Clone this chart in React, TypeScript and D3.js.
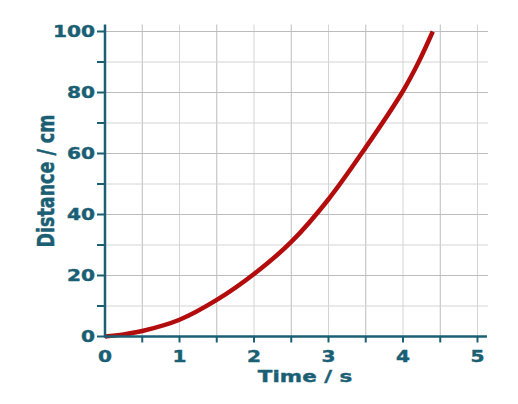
import React from "react";
import * as d3 from "d3";

const timeValues = [0, 0.25, 0.5, 1, 1.5, 2, 2.5, 3, 3.5, 4, 4.2, 4.4];
const distanceValues = [0, 0.7, 1.8, 5.5, 12, 20.5, 31, 45, 62, 80.5, 89.5, 100];
const xTickLabels = [0, 1, 2, 3, 4, 5];
const yTickLabels = [0, 20, 40, 60, 80, 100];

const W = 518;
const H = 404;
const AXIS = "#1b5f74";
const FONT = "'DejaVu Sans', Verdana, sans-serif";
const SX = 1.3;

export default function App() {
  const x = d3.scaleLinear().domain([0, 5]).range([105, 477.5]);
  const y = d3.scaleLinear().domain([0, 100]).range([336.5, 31.5]);
  const gridTop = y(102.3);
  const gridRight = x(5.14);

  const xGrid = d3.range(0.5, 5.01, 0.5);
  const yGrid = d3.range(10, 100.1, 10);
  const xTicks = d3.range(0.5, 5.01, 0.5);
  const yTicks = d3.range(0, 100.1, 10);

  const pts = timeValues.map((t, i) => [t, distanceValues[i]] as [number, number]);
  const line = d3
    .line<[number, number]>()
    .x((d) => x(d[0]))
    .y((d) => y(d[1]))
    .curve(d3.curveCatmullRom.alpha(0.5));

  return (
    <svg
      width={W}
      height={H}
      style={{ position: "absolute", left: 0, top: 0, display: "block", background: "#fff" }}
    >
      <g>
        {xGrid.map((v, i) => (
          <line
            key={"vx" + i}
            x1={x(v)}
            x2={x(v)}
            y1={gridTop}
            y2={y(0)}
            stroke={i % 2 === 0 ? "#bcbcbc" : "#d4d4d4"}
            strokeWidth={1}
          />
        ))}
        {yGrid.map((v, i) => (
          <line
            key={"hy" + i}
            x1={x(0)}
            x2={gridRight}
            y1={y(v)}
            y2={y(v)}
            stroke={i % 2 === 0 ? "#d4d4d4" : "#bcbcbc"}
            strokeWidth={1}
          />
        ))}
      </g>
      <path
        d={line(pts) || ""}
        fill="none"
        stroke="#b30c0c"
        strokeWidth={4.5}
        strokeLinecap="butt"
      />
      <g stroke={AXIS} strokeWidth={2.5}>
        <line x1={x(0)} x2={x(0)} y1={gridTop} y2={y(0) + 1} />
        <line x1={x(0) - 1} x2={gridRight - 1} y1={y(0)} y2={y(0)} />
        {yTicks.map((v, i) => (
          <line key={"yt" + i} x1={x(0) - 8} x2={x(0)} y1={y(v)} y2={y(v)} strokeWidth={2} />
        ))}
        {xTicks.map((v, i) => (
          <line key={"xt" + i} x1={x(v)} x2={x(v)} y1={y(0)} y2={y(0) + 6} strokeWidth={2} />
        ))}
      </g>
      <g fill={AXIS} stroke={AXIS} strokeWidth={0.4} fontFamily={FONT} fontWeight="bold" fontSize={15.5}>
        {yTickLabels.map((v) => (
          <text
            key={"yl" + v}
            textAnchor="end"
            dominantBaseline="central"
            transform={`translate(${x(0) - 10},${y(v)}) scale(${SX},1)`}
          >
            {v}
          </text>
        ))}
        {xTickLabels.map((v) => (
          <text
            key={"xl" + v}
            textAnchor="middle"
            transform={`translate(${x(v)},${362}) scale(${SX},1)`}
          >
            {v}
          </text>
        ))}
        <text textAnchor="middle" transform={`translate(305,382) scale(${SX},1)`} fontSize={16.5}>
          Time / s
        </text>
        <text
          textAnchor="middle"
          transform={`translate(54,181) scale(${SX},1) rotate(-90)`}
          fontSize={17.5}
        >
          Distance / cm
        </text>
      </g>
    </svg>
  );
}
